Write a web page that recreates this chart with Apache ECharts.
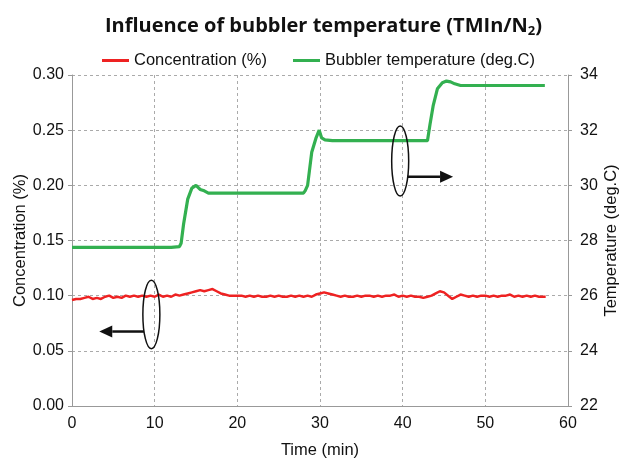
<!DOCTYPE html>
<html><head><meta charset="utf-8">
<script src="https://cdn.jsdelivr.net/npm/echarts@6/dist/echarts.min.js"></script>
<style>html,body{margin:0;padding:0;background:#fff}#c{width:622px;height:459px}</style>
</head><body><div id="c"></div>
<script>
const xTicks = [0, 10, 20, 30, 40, 50, 60];
const concTicks = ['0.00','0.05','0.10','0.15','0.20','0.25','0.30'];
const tempTicks = [22, 24, 26, 28, 30, 32, 34];

const concTime = [0,0.5,1,1.5,2,2.5,3,3.5,4,4.5,5,5.5,6,6.5,7,7.5,8,8.5,9,9.5,10,10.5,11,11.5,12,12.5,13,13.5,14,14.5,15,15.5,16,16.5,17,17.5,18,18.5,19,19.5,20,20.5,21,21.5,22,22.5,23,23.5,24,24.5,25,25.5,26,26.5,27,27.5,28,28.5,29,29.5,30,30.5,31,31.5,32,32.5,33,33.5,34,34.5,35,35.5,36,36.5,37,37.5,38,38.5,39,39.5,40,40.5,41,41.5,42,42.5,43,43.5,44,44.5,45,45.5,46,46.5,47,47.5,48,48.5,49,49.5,50,50.5,51,51.5,52,52.5,53,53.5,54,54.5,55,55.5,56,56.5,57,57.3];
const concValue = [0.096,0.097,0.097,0.098,0.099,0.097,0.098,0.097,0.099,0.1,0.098,0.099,0.098,0.1,0.099,0.1,0.099,0.1,0.099,0.1,0.099,0.101,0.099,0.1,0.099,0.101,0.1,0.101,0.102,0.103,0.104,0.105,0.104,0.105,0.106,0.104,0.102,0.101,0.1,0.1,0.1,0.1,0.099,0.1,0.099,0.1,0.099,0.099,0.1,0.099,0.1,0.099,0.099,0.1,0.099,0.1,0.099,0.1,0.099,0.101,0.102,0.103,0.102,0.101,0.1,0.099,0.1,0.099,0.099,0.1,0.099,0.1,0.1,0.099,0.1,0.099,0.1,0.1,0.101,0.099,0.1,0.099,0.1,0.099,0.099,0.098,0.099,0.1,0.102,0.104,0.103,0.1,0.097,0.099,0.101,0.1,0.099,0.1,0.099,0.1,0.1,0.099,0.1,0.099,0.1,0.1,0.101,0.099,0.1,0.099,0.1,0.099,0.1,0.099,0.099,0.099];

const tempTime = [0,2,4,6,8,10,12,13,13.2,13.5,14,14.5,15,15.5,16,16.5,18,20,22,24,26,28,28.2,28.5,29,29.5,29.9,30.2,30.6,31.5,34,37,40,43,43.3,43.7,44.2,44.8,45.3,45.8,46.3,47,50,53,57.2];
const tempValue = [27.75,27.75,27.75,27.75,27.75,27.75,27.75,27.78,27.9,28.6,29.5,29.9,30.0,29.85,29.8,29.72,29.72,29.72,29.72,29.72,29.72,29.72,29.8,30.0,31.2,31.7,32.0,31.72,31.65,31.62,31.62,31.62,31.62,31.62,32.2,32.9,33.5,33.72,33.78,33.75,33.68,33.62,33.62,33.62,33.62];

const seriesNames = ['Concentration (%)', 'Bubbler temperature (deg.C)'];
const FONT = '"Liberation Sans",sans-serif';

const chart = echarts.init(document.getElementById('c'));
const option = {
  animation: false,
  title: {
    text: '{a|Influence of bubbler temperature (TMIn/N}{s|2}{a|)}',
    left: 100, top: 10,
    textStyle: { rich: {
      a: { fontSize: 20, fontWeight: 'bold', fontFamily: '"Open Sans","Noto Sans",sans-serif', color: '#111' },
      s: { fontSize: 13, fontWeight: 'bold', fontFamily: '"Open Sans","Noto Sans",sans-serif', color: '#111', verticalAlign: 'bottom', padding: [10,0,0,0] }
    } }
  },
  legend: {
    top: 47, left: 97, itemGap: 26, itemWidth: 27, itemHeight: 3, icon: 'rect',
    textStyle: { fontSize: 16.5, fontFamily: FONT, color: '#111' },
    data: seriesNames
  },
  grid: { left: 72, right: 54, top: 75, bottom: 53, outerBoundsMode: 'none', containLabel: false },
  xAxis: {
    type: 'value', min: 0, max: 60, interval: 10,
    name: 'Time (min)', nameLocation: 'middle', nameGap: 36, nameMoveOverlap: false,
    nameTextStyle: { fontSize: 16.5, fontFamily: FONT, color: '#111' },
    axisLine: { lineStyle: { color: '#999' } },
    axisTick: { show: false },
    axisLabel: { fontSize: 16, fontFamily: FONT, color: '#111', margin: 10 },
    splitLine: { lineStyle: { type: [3,3], color: '#aaa' } }
  },
  yAxis: [{
    type: 'value', min: 0, max: 0.3, interval: 0.05,
    name: 'Concentration (%)', nameLocation: 'middle', nameGap: 43, nameMoveOverlap: false,
    nameTextStyle: { fontSize: 16.5, fontFamily: FONT, color: '#111' },
    axisLine: { show: true, lineStyle: { color: '#999' } },
    axisTick: { show: true, length: 4, lineStyle: { color: '#999' } },
    axisLabel: { fontSize: 16, fontFamily: FONT, color: '#111', margin: 8, formatter: v => concTicks[Math.round(v / 0.05)] },
    splitLine: { lineStyle: { type: [3,3], color: '#aaa' } }
  }, {
    type: 'value', min: 22, max: 34, interval: 2,
    name: 'Temperature (deg.C)', nameLocation: 'middle', nameGap: 35, nameRotate: 90, nameMoveOverlap: false,
    nameTextStyle: { fontSize: 16.5, fontFamily: FONT, color: '#111' },
    axisLine: { show: true, lineStyle: { color: '#999' } },
    axisTick: { show: true, length: 4, lineStyle: { color: '#999' } },
    axisLabel: { fontSize: 16, fontFamily: FONT, color: '#111', margin: 12 },
    splitLine: { show: false }
  }],
  series: [{
    name: seriesNames[0], type: 'line', yAxisIndex: 0, showSymbol: false,
    lineStyle: { color: '#ee2222', width: 2.5 }, itemStyle: { color: '#ee2222' },
    data: concTime.map((t, i) => [t, concValue[i]])
  }, {
    name: seriesNames[1], type: 'line', yAxisIndex: 1, showSymbol: false,
    lineStyle: { color: '#33b050', width: 3.2 }, itemStyle: { color: '#33b050' },
    data: tempTime.map((t, i) => [t, tempValue[i]])
  }]
};
chart.setOption(option);

function annot(x, yv, axisIdx, ryVal, tipX, arrowYv) {
  const c = chart.convertToPixel({ xAxisIndex: 0, yAxisIndex: axisIdx }, [x, yv]);
  const top = chart.convertToPixel({ xAxisIndex: 0, yAxisIndex: axisIdx }, [x, yv + ryVal]);
  const ry = c[1] - top[1];
  const rx = 8.5;
  const ay = chart.convertToPixel({ xAxisIndex: 0, yAxisIndex: axisIdx }, [x, arrowYv])[1];
  const tip = chart.convertToPixel({ xAxisIndex: 0, yAxisIndex: axisIdx }, [tipX, arrowYv])[0];
  const dir = tip < c[0] ? -1 : 1;
  const startX = c[0] + dir * rx * Math.sqrt(Math.max(0, 1 - Math.pow((ay - c[1]) / ry, 2)));
  const headLen = 13, headH = 6;
  return [
    { type: 'ellipse', shape: { cx: c[0], cy: c[1], rx: rx, ry: ry }, style: { fill: null, stroke: '#111', lineWidth: 1.5 }, z: 100 },
    { type: 'line', shape: { x1: startX, y1: ay, x2: tip - dir * headLen, y2: ay }, style: { stroke: '#111', lineWidth: 2.5 }, z: 100 },
    { type: 'polygon', shape: { points: [[tip, ay], [tip - dir * headLen, ay - headH], [tip - dir * headLen, ay + headH]] }, style: { fill: '#111' }, z: 100 }
  ];
}
chart.setOption({ graphic: { elements: [
  ...annot(9.6, 0.083, 0, 0.031, 3.3, 0.0675),
  ...annot(39.7, 30.88, 1, 1.27, 46.1, 30.31)
] } });
</script></body></html>
